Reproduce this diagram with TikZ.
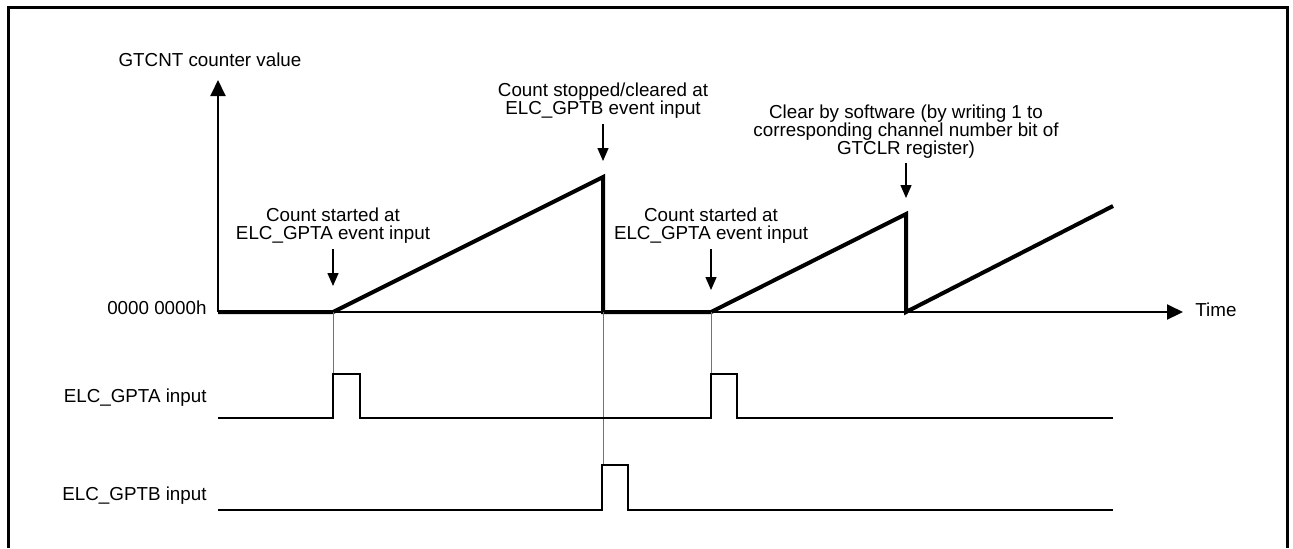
\documentclass[tikz,border=0pt]{standalone}
\usepackage{fontspec}
\setmainfont{Liberation Sans}
\usepackage{tikz}
\usetikzlibrary{arrows.meta, positioning, calc}
\tikzset{
  lbl/.style={font=\fontsize{9.4}{9}\selectfont, inner sep=0pt, align=center},
  outline/.style={line width=1.5pt, draw=black},
  axisline/.style={line width=1pt, -{Triangle[length=8pt, width=7.5pt]}},
  cnt/.style={line width=2pt, line join=miter},
  sig/.style={line width=1pt, draw=black},
  guide/.style={line width=0.5pt, draw=black!55},
  note/.style={line width=0.7pt, -{Triangle[length=6.5pt, width=5.5pt]}, shorten <=2.5pt},
}

\begin{document}
\begin{tikzpicture}[x=0.5pt, y=-0.5pt]
  \useasboundingbox (0,0) rectangle (1293,548);
  % frame, open at the bottom
  \draw[outline] (8,548) -- (8,7) -- (1287,7) -- (1287,548);

  % counter corners
  \coordinate (org) at (218,312);
  \coordinate (st1) at (333,312);
  \coordinate (pk1) at (603,177);
  \coordinate (clr1) at (603,312);
  \coordinate (st2) at (711,312);
  \coordinate (pk2) at (906,214);
  \coordinate (clr2) at (906,312);
  \coordinate (cend) at (1113,206);
  \coordinate (ytop) at (218,80);
  \coordinate (xend) at (1183,312);

  \draw[axisline] (org) -- (ytop);
  \draw[axisline] (org) -- (xend);
  \draw[cnt] (org) -- (st1) -- (pk1) -- (clr1) -- (st2) -- (pk2) -- (clr2) -- (cend);

  \node[lbl, anchor=base] (ylab) at (210,66) {GTCNT counter value};
  \node[lbl, anchor=base east] (zero) at (207,314) {0000 0000h};
  \node[lbl, anchor=base west] (tlab) at (1195,316) {Time};
  \node[lbl, anchor=base east] (alab) at (207,402) {ELC\_GPTA input};
  \node[lbl, anchor=base east] (blab) at (207,500) {ELC\_GPTB input};

  % event notes
  \node[lbl, anchor=south] (start1) at (333,244) {Count started at\\ELC\_GPTA event input};
  \node[lbl, anchor=south] (stop) at (603,119) {Count stopped/cleared at\\ELC\_GPTB event input};
  \node[lbl, anchor=south] (start2) at (711,244) {Count started at\\ELC\_GPTA event input};
  \node[lbl, anchor=south] (swclr) at (906,159) {Clear by software (by writing 1 to\\corresponding channel number bit of\\GTCLR register)};
  \coordinate (t1) at (333,286);
  \coordinate (t2) at (603,161);
  \coordinate (t3) at (711,290);
  \coordinate (t4) at (906,198);
  \draw[note] (start1) -- (t1);
  \draw[note] (stop) -- (t2);
  \draw[note] (start2) -- (t3);
  \draw[note, shorten <=2pt] (swclr) -- (t4);

  % input pulses
  \draw[guide] (st1) -- (333,374);
  \draw[guide] (clr1) -- (603,465);
  \draw[guide] (st2) -- (711,374);
  \draw[sig] (218,418) -| (333,374) -| (360,418) -| (711,374) -| (737,418) -- (1113,418);
  \draw[sig] (218,510) -| (602,465) -| (628,510) -- (1113,510);
\end{tikzpicture}
\end{document}
